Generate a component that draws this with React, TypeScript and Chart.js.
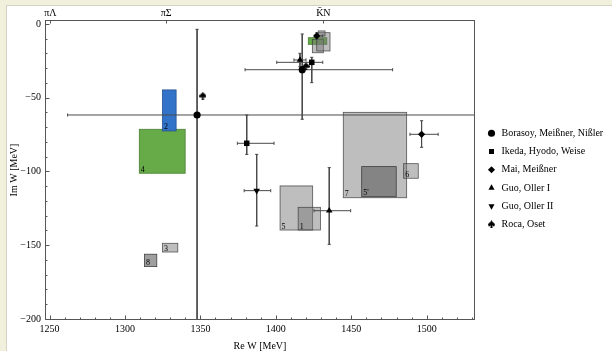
import React, { useEffect, useRef } from 'react';
import { Chart, registerables } from 'chart.js';

Chart.register(...registerables);

const FONT = "'Liberation Serif', 'DejaVu Serif', 'Times New Roman', serif";

// axis thresholds (top labels)
const thresholdValues = [1250.6, 1327.3, 1431.5];
const thresholdLabels = ['πΛ', 'πΣ', 'K̄N'];

// Borasoy, Meißner, Nißler
const borasoyRe = [1347.8, 1417.5];
const borasoyIm = [-61.7, -31.0];
const borasoyReLo = [1262, 1379.6];
const borasoyReHi = [1600, 1477.4];
const borasoyImHi = [-3.6, -6.8];
const borasoyImLo = [-260, -64.6];

// Ikeda, Hyodo, Weise
const ikedaRe = [1423.8, 1380.7];
const ikedaIm = [-26.0, -80.9];
const ikedaReLo = [1400.6, 1374.5];
const ikedaReHi = [1431.1, 1398.8];
const ikedaImHi = [-22.6, -61.7];
const ikedaImLo = [-39.8, -88.4];

// Mai, Meißner
const maiRe = [1427.1, 1496.6];
const maiIm = [-8.1, -74.8];
const maiReLo = [1425.5, 1488.9];
const maiReHi = [1431.0, 1507.6];
const maiImHi = [-6.0, -65.6];
const maiImLo = [-10.2, -83.6];

// Guo, Oller I
const guo1Re = [1435.4, 1416.0];
const guo1Im = [-126.6, -24.4];
const guo1ReLo = [1425.3, 1412.0];
const guo1ReHi = [1449.6, 1420.0];
const guo1ImHi = [-97.4, -19.9];
const guo1ImLo = [-149.4, -28.9];

// Guo, Oller II
const guo2Re = [1387.3];
const guo2Im = [-113.0];
const guo2ReLo = [1379.0];
const guo2ReHi = [1396.6];
const guo2ImHi = [-88.4];
const guo2ImLo = [-137.0];

// Roca, Oset
const rocaRe = [1351.6, 1420.0];
const rocaIm = [-48.6, -28.5];

// Regions (boxes)
const boxLabels = ['7', "5'", '6', '5', '1', '4', '2', '3', '8', '', '', '', ''];
const boxReLo = [1444.7, 1456.9, 1484.7, 1402.8, 1414.8, 1309.5, 1324.8, 1324.8, 1312.9, 1421.5, 1424.2, 1427.1, 1428.1];
const boxReHi = [1486.7, 1479.8, 1494.4, 1424.4, 1429.6, 1339.9, 1333.9, 1335.0, 1321.1, 1433.8, 1431.5, 1435.9, 1432.6];
const boxImHi = [-59.9, -96.7, -94.7, -109.8, -124.3, -71.4, -44.7, -148.7, -156.1, -9.3, -10.4, -5.9, -4.7];
const boxImLo = [-117.8, -117.1, -104.6, -139.7, -139.7, -101.2, -72.5, -154.6, -164.5, -13.8, -19.5, -18.3, -8.1];
const boxKinds = ['gray', 'dark', 'gray', 'gray', 'gray', 'green', 'blue', 'gray', 'dark', 'green', 'gray', 'gray', 'gray'];

const BOX_STYLES: Record<string, { fill: string; stroke: string }> = {
  gray: { fill: 'rgba(120,120,120,0.48)', stroke: 'rgba(60,60,60,0.85)' },
  dark: { fill: 'rgba(95,95,95,0.6)', stroke: 'rgba(50,50,50,0.9)' },
  green: { fill: '#67aa48', stroke: '#4a7f33' },
  blue: { fill: '#3272c8', stroke: '#24528f' },
};

function makeSpade(): HTMLCanvasElement {
  const c = document.createElement('canvas');
  c.width = 7;
  c.height = 8;
  const g = c.getContext('2d')!;
  g.scale(7 / 8, 8 / 9);
  g.fillStyle = '#000';
  g.beginPath();
  g.moveTo(4, 0);
  g.bezierCurveTo(4.5, 1.8, 8, 3.2, 8, 5.2);
  g.bezierCurveTo(8, 6.8, 5.8, 7.2, 4.6, 5.9);
  g.lineTo(5.4, 9);
  g.lineTo(2.6, 9);
  g.lineTo(3.4, 5.9);
  g.bezierCurveTo(2.2, 7.2, 0, 6.8, 0, 5.2);
  g.bezierCurveTo(0, 3.2, 3.5, 1.8, 4, 0);
  g.closePath();
  g.fill();
  return c;
}

type Series = {
  label: string;
  re: number[];
  im: number[];
  reLo?: (number | null)[];
  reHi?: (number | null)[];
  imLo?: (number | null)[];
  imHi?: (number | null)[];
};

const boxPlugin = {
  id: 'boxes',
  beforeDatasetsDraw(chart: any) {
    const { ctx, chartArea: a, scales } = chart;
    const x = scales.x;
    const y = scales.y;
    ctx.save();
    ctx.beginPath();
    ctx.rect(a.left, a.top, a.right - a.left, a.bottom - a.top);
    ctx.clip();
    boxReLo.forEach((lo, i) => {
      const x1 = x.getPixelForValue(lo);
      const x2 = x.getPixelForValue(boxReHi[i]);
      const y1 = y.getPixelForValue(boxImHi[i]);
      const y2 = y.getPixelForValue(boxImLo[i]);
      const st = BOX_STYLES[boxKinds[i]];
      ctx.fillStyle = st.fill;
      ctx.fillRect(x1, y1, x2 - x1, y2 - y1);
      ctx.strokeStyle = st.stroke;
      ctx.lineWidth = 0.8;
      ctx.strokeRect(x1, y1, x2 - x1, y2 - y1);
    });
    ctx.fillStyle = '#000';
    ctx.font = `8px ${FONT}`;
    ctx.textAlign = 'left';
    ctx.textBaseline = 'alphabetic';
    boxLabels.forEach((lab, i) => {
      if (!lab) return;
      const x1 = x.getPixelForValue(boxReLo[i]);
      const y2 = y.getPixelForValue(boxImLo[i]);
      ctx.fillText(lab, x1 + 1.5, y2 - 1.5);
    });
    ctx.restore();
  },
};

const framePlugin = {
  id: 'frame',
  afterDatasetsDraw(chart: any) {
    const { ctx, chartArea: a, scales } = chart;
    const x = scales.x;
    const y = scales.y;
    ctx.save();
    ctx.strokeStyle = '#555';
    ctx.lineWidth = 1;
    const L = Math.round(a.left) + 0.5;
    const R = Math.round(a.right) - 0.5;
    const T = Math.round(a.top) + 0.5;
    const B = Math.round(a.bottom) - 0.5;
    ctx.strokeRect(L, T, R - L, B - T);
    ctx.beginPath();
    for (let v = 1250; v <= 1530; v += 10) {
      const px = Math.round(x.getPixelForValue(v)) + 0.5;
      const len = v % 50 === 0 ? 4 : 2;
      ctx.moveTo(px, B);
      ctx.lineTo(px, B - len);
    }
    for (let v = 0; v >= -200; v -= 10) {
      const py = Math.round(y.getPixelForValue(v)) + 0.5;
      const len = v % 50 === 0 ? 4 : 2;
      ctx.moveTo(L, py);
      ctx.lineTo(L + len, py);
    }
    thresholdValues.forEach((v) => {
      const px = Math.round(x.getPixelForValue(v)) + 0.5;
      ctx.moveTo(px, T);
      ctx.lineTo(px, T + 3);
    });
    ctx.stroke();
    ctx.restore();
  },
};

export default function App() {
  const ref = useRef<HTMLCanvasElement | null>(null);

  useEffect(() => {
    if (!ref.current) return;
    const spade = makeSpade();

    const series: (Series & { style: any; radius: number; rotation: number })[] = [
      { label: 'Borasoy, Meißner, Nißler', re: borasoyRe, im: borasoyIm, reLo: borasoyReLo, reHi: borasoyReHi, imLo: borasoyImLo, imHi: borasoyImHi, style: 'circle', radius: 3.6, rotation: 0 },
      { label: 'Ikeda, Hyodo, Weise', re: ikedaRe, im: ikedaIm, reLo: ikedaReLo, reHi: ikedaReHi, imLo: ikedaImLo, imHi: ikedaImHi, style: 'rect', radius: 3.9, rotation: 0 },
      { label: 'Mai, Meißner', re: maiRe, im: maiIm, reLo: maiReLo, reHi: maiReHi, imLo: maiImLo, imHi: maiImHi, style: 'rectRot', radius: 3.6, rotation: 0 },
      { label: 'Guo, Oller I', re: guo1Re, im: guo1Im, reLo: guo1ReLo, reHi: guo1ReHi, imLo: guo1ImLo, imHi: guo1ImHi, style: 'triangle', radius: 3.8, rotation: 0 },
      { label: 'Guo, Oller II', re: guo2Re, im: guo2Im, reLo: guo2ReLo, reHi: guo2ReHi, imLo: guo2ImLo, imHi: guo2ImHi, style: 'triangle', radius: 3.8, rotation: 180 },
      { label: 'Roca, Oset', re: rocaRe, im: rocaIm, style: spade, radius: 4, rotation: 0 },
    ];

    const markerSets = series.map((s) => ({
      type: 'scatter' as const,
      label: s.label,
      data: s.re.map((v, i) => ({ x: v, y: s.im[i] })),
      pointStyle: s.style,
      pointRotation: s.rotation,
      pointRadius: s.radius,
      backgroundColor: '#000',
      borderColor: '#000',
      borderWidth: 0,
      showLine: false,
      order: 0,
    }));

    const hData: any[] = [];
    const vData: any[] = [];
    series.forEach((s) => {
      s.re.forEach((re, i) => {
        const im = s.im[i];
        if (s.reLo && s.reLo[i] != null && s.reHi && s.reHi[i] != null) {
          hData.push({ x: s.reLo[i], y: im }, { x: s.reHi[i], y: im }, { x: s.reHi[i], y: null });
        }
        if (s.imLo && s.imLo[i] != null && s.imHi && s.imHi[i] != null) {
          vData.push({ x: re, y: s.imHi[i] }, { x: re, y: s.imLo[i] }, { x: re, y: null });
        }
      });
    });

    const errStyle = {
      type: 'line' as const,
      borderColor: '#4a4a4a',
      borderWidth: 1,
      pointBorderColor: '#4a4a4a',
      pointBorderWidth: 1,
      pointBackgroundColor: '#4a4a4a',
      pointRadius: 1.6,
      pointStyle: 'line',
      showLine: true,
      spanGaps: false,
      fill: false,
      tension: 0,
      order: 1,
    };

    const datasets: any[] = [
      ...markerSets,
      { ...errStyle, label: 'hbars', data: hData, pointRotation: 90 },
      { ...errStyle, label: 'vbars', data: vData, pointRotation: 0 },
    ];

    const tickFont = { family: FONT, size: 10 };

    const chart = new Chart(ref.current, {
      type: 'scatter',
      data: { datasets },
      plugins: [boxPlugin, framePlugin],
      options: {
        animation: false,
        responsive: false,
        events: [],
        layout: { padding: { top: 6.6, left: 0, right: 0, bottom: 0 } },
        scales: {
          x: {
            type: 'linear',
            position: 'bottom',
            min: 1247,
            max: 1532,
            ticks: {
              stepSize: 50,
              includeBounds: false,
              font: tickFont,
              color: '#000',
              padding: 3.5,
              maxRotation: 0,
              autoSkip: false,
              callback: (v: any) => String(v),
            },
            grid: { display: false, drawTicks: false },
            border: { display: false },
            title: { display: true, text: 'Re W [MeV]', color: '#000', font: { family: FONT, size: 10, lineHeight: 1 }, padding: { top: 0, bottom: 0 } },
            afterFit: (s: any) => { s.height = 31; },
          },
          x2: {
            type: 'linear',
            position: 'top',
            min: 1247,
            max: 1532,
            afterBuildTicks: (s: any) => { s.ticks = thresholdValues.map((v) => ({ value: v })); },
            ticks: { callback: (_v: any, i: number) => thresholdLabels[i], font: tickFont, color: '#000', padding: 1, maxRotation: 0, autoSkip: false },
            grid: { display: false, drawTicks: false },
            border: { display: false },
            afterFit: (s: any) => { s.height = 13.4; },
          },
          y: {
            type: 'linear',
            position: 'left',
            min: -200.7,
            max: 2.7,
            ticks: {
              stepSize: 50,
              includeBounds: false,
              font: tickFont,
              color: '#000',
              padding: 4,
              callback: (v: any) => (v === 0 ? '0' : '\u2212' + Math.abs(v)),
            },
            grid: { display: false, drawTicks: false },
            border: { display: false },
            title: { display: true, text: 'Im W [MeV]', color: '#000', font: { family: FONT, size: 10, lineHeight: 1 }, padding: { top: 9, bottom: 0 } },
            afterFit: (s: any) => { s.width = 45; },
          },
          y2: {
            type: 'linear',
            position: 'right',
            min: 0,
            max: 1,
            ticks: { display: false },
            grid: { display: false, drawTicks: false },
            border: { display: false },
            afterFit: (s: any) => { s.width = 3.3; },
          },
        },
        plugins: {
          tooltip: { enabled: false },
          legend: {
            position: 'right',
            align: 'center',
            maxWidth: 133.7,
            labels: {
              usePointStyle: true,
              boxWidth: 11,
              boxHeight: 5,
              padding: 8.2,
              color: '#000',
              font: { family: FONT, size: 10 },
              filter: (item: any) => item.datasetIndex < 6,
            },
          },
        },
      } as any,
    });

    return () => chart.destroy();
  }, []);

  return (
    <div style={{ position: 'fixed', left: 0, top: 0, width: 612, height: 351, background: '#f1f0dd', overflow: 'hidden' }}>
      <div
        style={{
          position: 'absolute',
          left: 6,
          top: 5,
          right: 0,
          bottom: 0,
          background: '#fff',
          borderLeft: '1px solid #d4d3c2',
          borderTop: '1px solid #d4d3c2',
        }}
      />
      <canvas ref={ref} width={612} height={351} style={{ position: 'absolute', left: 0, top: 0, width: 612, height: 351 }} />
    </div>
  );
}
